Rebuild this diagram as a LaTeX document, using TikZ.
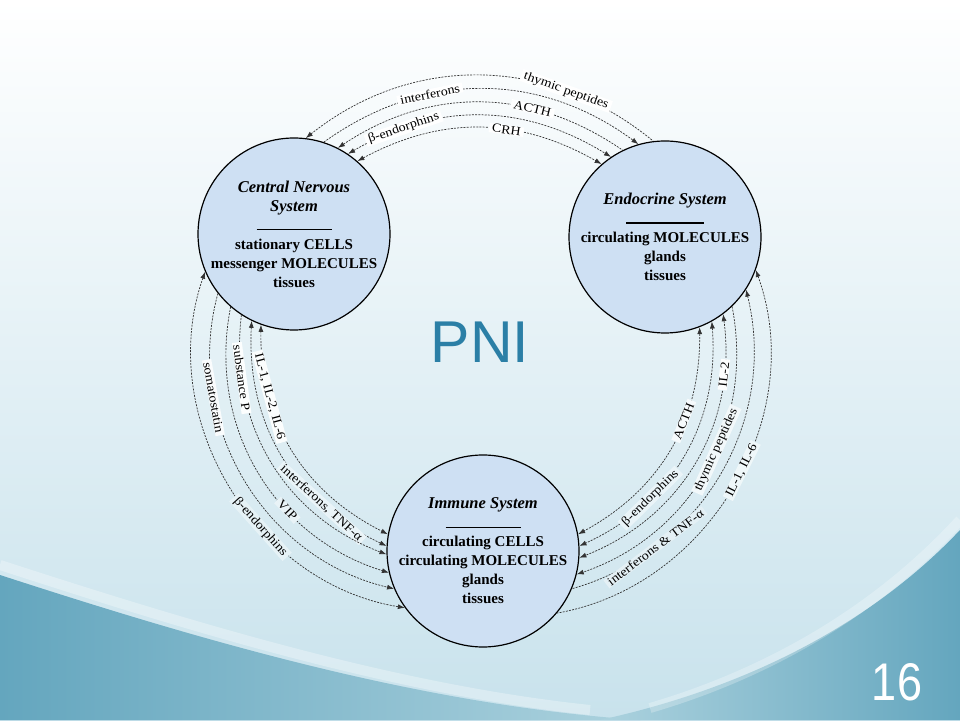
\documentclass[tikz,border=0pt]{standalone}
\usepackage{fontspec}
\setmainfont{Liberation Serif}
\newfontfamily\slidefont{Liberation Sans}
\newfontfamily\numfont{Liberation Sans}[FakeStretch=0.85]
\newfontfamily\arcfont{Liberation Serif}[FakeStretch=1.12]
\usetikzlibrary{arrows.meta}

\definecolor{bgblue}{RGB}{200,226,236}
\definecolor{tealdark}{RGB}{100,166,190}
\definecolor{teallight}{RGB}{172,210,222}
\definecolor{sysfill}{RGB}{206,224,243}
\definecolor{pnicolor}{RGB}{43,127,166}

\begin{document}
\begin{tikzpicture}[x=1pt,y=1pt,
    sys/.style={circle,draw=black,line width=1.2pt,fill=sysfill,minimum size=192pt,inner sep=0pt},
    systext/.style={align=center,font=\fontsize{15}{19}\selectfont\bfseries},
    flow/.style={dash pattern=on 2pt off 1.2pt,line width=0.7pt,black!80,>={Latex[length=7pt,width=5pt]}},
    lbl/.style={sloped,fill=bgblue!#1!white,inner xsep=3pt,inner ysep=0.5pt,text=black,font=\arcfont\fontsize{12.5}{12.5}\selectfont},
    lbl/.default=0]

    % Draw slide background
    \shade[top color=white,middle color=white,bottom color=bgblue] (0,0) rectangle (960,720);
    \useasboundingbox (0,0) rectangle (960,720);

    % Draw the waves at the bottom
    \shade[left color=tealdark,right color=teallight] (0,145) .. controls (200,80) and (420,15) .. (640,0) -- (0,0) -- cycle;
    \shade[left color=teallight,right color=tealdark] (600,0) .. controls (760,35) and (880,105) .. (960,190) -- (960,0) -- cycle;
    \draw[white,opacity=0.3,line width=10pt] (0,155) .. controls (200,90) and (400,30) .. (590,10);
    \draw[white,opacity=0.25,line width=10pt] (650,12) .. controls (780,50) and (885,118) .. (960,200);

    % Draw the three systems
    \node[sys] (cns) at (294,486) {};
    \node[systext] (cnstext) at (cns) {\textit{\fontsize{16.5}{19}\selectfont Central Nervous}\\\textit{\fontsize{16.5}{19}\selectfont System}\\\rule{75pt}{1.2pt}\\stationary CELLS\\messenger MOLECULES\\tissues};

    \node[sys] (endo) at (665,483) {};
    \node[systext] (endotext) at (endo) {\textit{\fontsize{16.5}{19}\selectfont Endocrine System}\\\rule{78pt}{1.2pt}\\circulating MOLECULES\\glands\\tissues};

    \node[sys] (imm) at (483,169) {};
    \node[systext] (immtext) at (imm) {\textit{\fontsize{16.5}{19}\selectfont Immune System}\\\rule{75pt}{1.2pt}\\circulating CELLS\\circulating MOLECULES\\glands\\tissues};

    % arrows between nervous and endocrine system
    \draw[flow,<-] (cns.83) to[bend left=39] node[lbl,pos=0.74] {thymic peptides} (endo.97);
    \draw[flow,->] (cns.72) to[bend left=36] node[lbl,pos=0.34] {interferons} (endo.106);
    \draw[flow,<-] (cns.63) to[bend left=34] node[lbl,pos=0.68] {ACTH} (endo.116);
    \draw[flow,<->] (cns.56) to[bend left=31] node[lbl,pos=0.21] {β-endorphins} (endo.124);
    \draw[flow,<->] (cns.49) to[bend left=29] node[lbl,pos=0.61] {CRH} (endo.131);

    % arrows between nervous and immune system
    \draw[flow,<->] (cns.250) to[bend right=32] node[lbl=8,pos=0.27] {IL-1, IL-2, IL-6} (imm.170);
    \draw[flow,<->] (cns.244) to[bend right=34] node[lbl=38,pos=0.73] {interferons, TNF-α} (imm.177);
    \draw[flow,->] (cns.237) to[bend right=38] node[lbl=5,pos=0.2] {substance P} (imm.182);
    \draw[flow,->] (cns.229) to[bend right=42] node[lbl=40,pos=0.65] {VIP} (imm.193);
    \draw[flow,->] (cns.218) to[bend right=46] node[lbl=10,pos=0.27] {somatostatin} (imm.203);
    \draw[flow,<->] (cns.203) to[bend right=50] node[lbl=46,pos=0.62] {β-endorphins} (imm.216);

    % arrows between endocrine and immune system
    \draw[flow,<->] (endo.291) to[bend left=31] node[lbl=16,pos=0.37] {ACTH} (imm.10);
    \draw[flow,<->] (endo.299) to[bend left=35] node[lbl=38,pos=0.7] {β-endorphins} (imm.3);
    \draw[flow,<->] (endo.307) to[bend left=38] node[lbl=3,pos=0.19] {IL-2} (imm.356);
    \draw[flow,->] (endo.314) to[bend left=41] node[lbl=24,pos=0.43] {thymic peptides} (imm.346);
    \draw[flow,<-] (endo.327) to[bend left=44] node[lbl=50,pos=0.76] {interferons \& TNF-α} (imm.337);
    \draw[flow,<-] (endo.340) to[bend left=50] node[lbl=29,pos=0.46] {IL-1, IL-6} (imm.320);

    % title and slide number
    \node[font=\slidefont\fontsize{59}{59}\selectfont,text=pnicolor,anchor=base] (pni) at (480,357) {PNI};
    \node[font=\numfont\fontsize{53}{53}\selectfont,text=white,anchor=base] (pagenum) at (897,20) {16};
\end{tikzpicture}
\end{document}
